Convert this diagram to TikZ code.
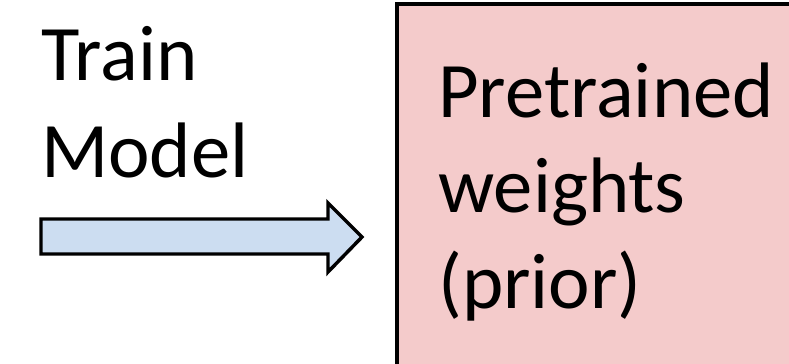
\documentclass[tikz,border=0pt]{standalone}
\usepackage{fontspec}
\setmainfont{Carlito}
\definecolor{boxpink}{HTML}{F4CBCB}
\definecolor{arrowblue}{HTML}{CCDDF1}
\begin{document}
\begin{tikzpicture}[x=0.75pt,y=-0.75pt,
  label/.style={anchor=base west,inner sep=0pt,font=\fontsize{59}{72}\selectfont},
  blockarrow/.style={draw=black,line width=2.6pt,fill=arrowblue,line join=miter},
  priorbox/.style={draw=black,line width=2.4pt,fill=boxpink}]
\useasboundingbox (0,0) rectangle (789,364);
\clip (0,0) rectangle (789,364);
\fill[white] (0,0) rectangle (789,364);
\draw[priorbox] (397,4) rectangle (810,390);
\node[label] (t1) at (41,80) {Train};
\node[label] (t2) at (41,177) {Model};
\draw[blockarrow] (41,219) -- (328,219) -- (328,203) -- (362,237) -- (328,272) -- (328,254) -- (41,254) -- cycle;
\node[label] (p1) at (438,117) {Pretrained};
\node[label] (p2) at (438,212) {weights};
\node[label] (p3) at (438,308) {(prior)};
\end{tikzpicture}
\end{document}
